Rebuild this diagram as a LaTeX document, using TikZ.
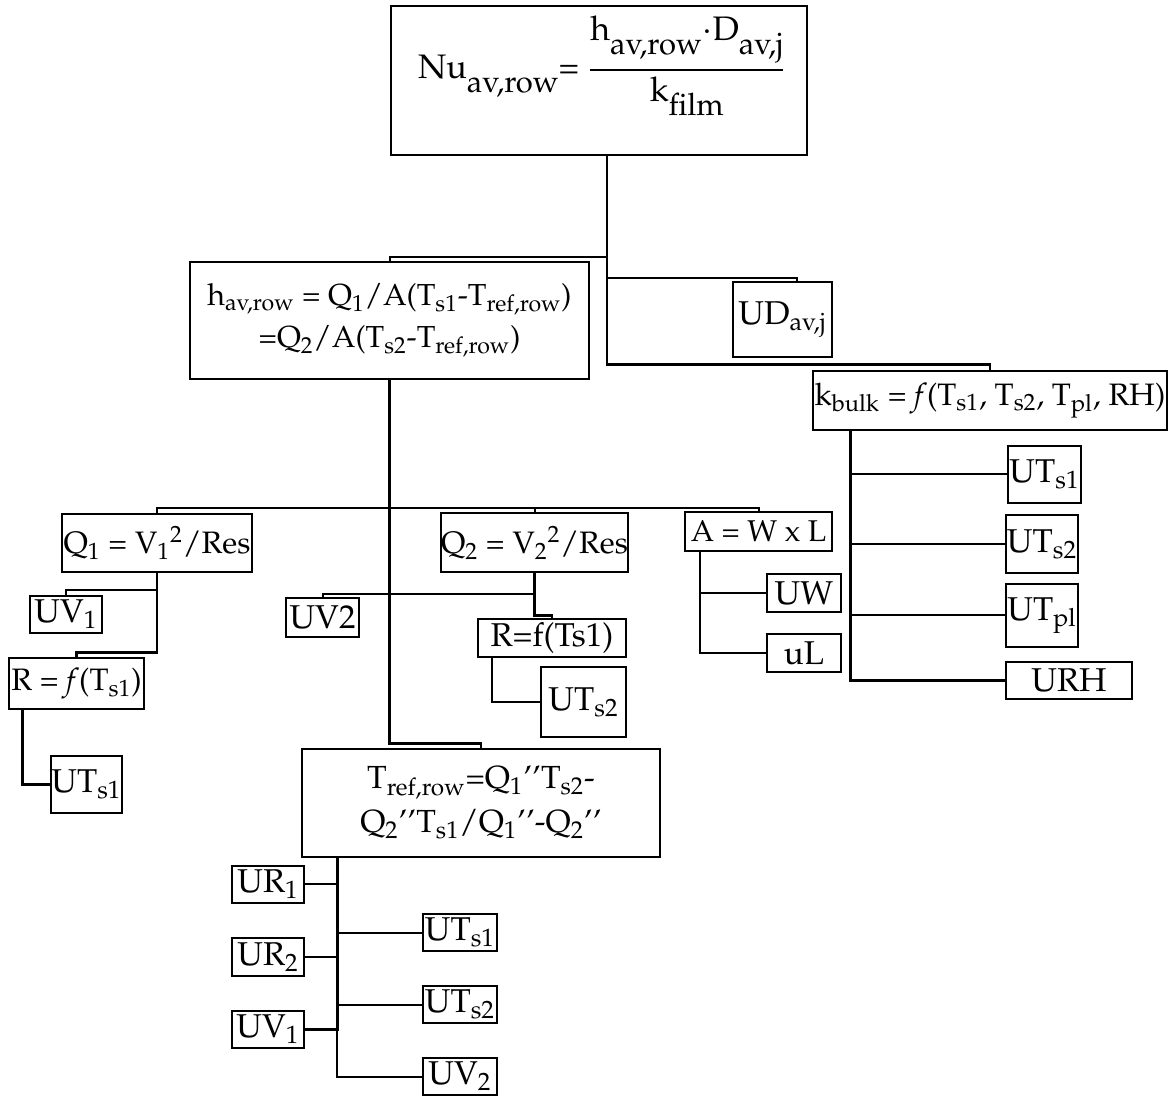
\documentclass[tikz,border=0pt]{standalone}
\usepackage[T1]{fontenc}
\usepackage{mathpazo}
\newcommand\sbs[1]{\textsubscript{#1}}
\newcommand\sps[1]{\textsuperscript{#1}}
\newcommand\lw[1]{\raisebox{-7pt}{\fontsize{15.5}{15.5}\selectfont #1}}
\begin{document}
\begin{tikzpicture}[x=0.5pt,y=-0.5pt,
  box/.style={draw,line width=0.8pt,inner sep=0pt,align=center,font=\fontsize{16.5}{19}\selectfont},
  conn/.style={line width=1pt},
  trunk/.style={line width=1.4pt}]
\useasboundingbox (0,0) rectangle (1169,1096);
% nodes
\node[box,minimum width=208pt,minimum height=74.5pt] (top) at (599,80.5) {};
\node[inner sep=0pt,font=\fontsize{17}{20}\selectfont] (toptxt) at (602,66)
  {Nu\lw{av,row}= $\displaystyle{\mbox{h\lw{av,row}$\cdot$D\lw{av,j}}\above 0.9pt\mbox{k\lw{film}}}$};
\node[box,minimum width=199.5pt,minimum height=58.5pt,font=\fontsize{15.2}{21}\selectfont] (hav) at (389.5,320.5)
  {h\sbs{av,row} = Q\sbs{1}/A(T\sbs{s1}-T\sbs{ref,row})\\=Q\sbs{2}/A(T\sbs{s2}-T\sbs{ref,row})};
\node[box,minimum width=49.5pt,minimum height=37.5pt] (UD) at (782.5,319.5) {UD\sbs{av,j}};
\node[box,minimum width=177pt,minimum height=29.5pt,font=\fontsize{15.5}{19}\selectfont] (kbulk) at (990,400.5)
  {k\sbs{bulk} = \textit{f}(T\sbs{s1}, T\sbs{s2}, T\sbs{pl}, RH)};
\node[box,minimum width=36.5pt,minimum height=28.5pt] (UTsb) at (1044.5,474.5) {UT\sbs{s1}};
\node[box,minimum width=36pt,minimum height=29pt] (UTsbb) at (1042,544) {UT\sbs{s2}};
\node[box,minimum width=36pt,minimum height=31.5pt] (UTpl) at (1042,615.5) {UT\sbs{pl}};
\node[box,minimum width=63pt,minimum height=18.5pt] (URH) at (1069,680.5) {URH};
\node[box,minimum width=95pt,minimum height=29pt,font=\fontsize{15.5}{19}\selectfont] (Q1) at (157,543) {Q\sbs{1} = V\sbs{1}\sps{2}/Res};
\node[box,minimum width=36pt,minimum height=18.5pt] (UVa) at (66,614.5) {UV\sbs{1}};
\node[box,minimum width=67.5pt,minimum height=25.5pt,font=\fontsize{15.5}{19}\selectfont] (R1) at (76.5,683.5) {R = \textit{f}(T\sbs{s1})};
\node[box,minimum width=35.5pt,minimum height=28.5pt] (UTsa) at (86.5,784.5) {UT\sbs{s1}};
\node[box,minimum width=36.5pt,minimum height=19.5pt] (UVb) at (322.5,617.5) {UV2};
\node[box,minimum width=91.5pt,minimum height=29.5pt,font=\fontsize{15.5}{19}\selectfont] (Q2) at (534.5,542.5) {Q\sbs{2} = V\sbs{2}\sps{2}/Res};
\node[box,minimum width=74pt,minimum height=19pt] (R2) at (552,638) {R=f(Ts1)};
\node[box,minimum width=42.5pt,minimum height=35pt] (UTsaa) at (583.5,702) {UT\sbs{s2}};
\node[box,minimum width=73.5pt,minimum height=19.5pt,font=\fontsize{15}{19}\selectfont] (A) at (758.5,531.5) {A = W x L};
\node[box,minimum width=37pt,minimum height=19pt] (UW) at (804,593) {UW};
\node[box,minimum width=37pt,minimum height=19pt] (uL) at (804,653) {uL};
\node[box,minimum width=179pt,minimum height=54pt,font=\fontsize{16}{22}\selectfont] (Tref) at (481,803)
  {T\sbs{ref,row}=Q\sbs{1}'{}'T\sbs{s2}-\\Q\sbs{2}'{}'T\sbs{s1}/Q\sbs{1}'{}'-Q\sbs{2}'{}'};
\node[box,minimum width=36pt,minimum height=18.5pt] (URa) at (268,884.5) {UR\sbs{1}};
\node[box,minimum width=36pt,minimum height=19pt] (URb) at (268,957) {UR\sbs{2}};
\node[box,minimum width=36pt,minimum height=18.5pt] (UVc) at (268,1029.5) {UV\sbs{1}};
\node[box,minimum width=37pt,minimum height=18.5pt] (UTsc) at (460,932.5) {UT\sbs{s1}};
\node[box,minimum width=37pt,minimum height=18.5pt] (UTscc) at (460,1004.5) {UT\sbs{s2}};
\node[box,minimum width=37pt,minimum height=18.5pt] (UVd) at (460,1076.5) {UV\sbs{2}};
% connectors: top level
\draw[trunk] ([xshift=4pt]top.south) -- ++(0,209) -| (kbulk.north);
\draw[conn] ([xshift=4pt]top.south) ++(0,101) -| (hav.north);
\draw[conn] ([xshift=4pt]top.south) ++(0,122) -| ([xshift=7pt]UD.north);
% hav level
\draw[trunk] (hav.south) -- ++(0,364) -| (Tref.north);
\draw[conn] (Q1.north) -- ++(0,-5) -| (A.north);
\draw[conn] (Q2.north) -- ++(0,-4);
% Q1 subtree
\draw[trunk] (Q1.south) -- ++(0,80) -| (R1.north);
\draw[conn] (Q1.south) ++(0,17) -| (UVa.north);
\draw[trunk] ([xshift=7pt]R1.south west) |- (UTsa.west);
% Q2 subtree
\draw[trunk] (Q2.south) -- ++(0,43) -| (R2.north);
\draw[conn] (Q2.south) ++(0,21) -| (UVb.north);
\draw[conn] ([xshift=7.5pt]R2.south west) |- (UTsaa.west);
% A subtree
\draw[conn] ([xshift=8pt]A.south west) |- (uL.west);
\draw[conn] ([xshift=8pt]A.south west) |- (UW.west);
% kbulk subtree
\draw[trunk] ([xshift=19pt]kbulk.south west) |- (URH.west);
\draw[conn] ([xshift=19pt]kbulk.south west) |- (UTsb.west);
\draw[conn] ([xshift=19pt]kbulk.south west) |- (UTsbb.west);
\draw[conn] ([xshift=19pt]kbulk.south west) |- (UTpl.west);
% Tref subtree
\draw[trunk] ([xshift=18pt]Tref.south west) |- (UVc.east);
\draw[conn] ([xshift=18pt]Tref.south west) |- (UVd.west);
\draw[conn] ([xshift=18pt]Tref.south west) |- (URa.east);
\draw[conn] ([xshift=18pt]Tref.south west) |- (URb.east);
\draw[conn] ([xshift=18pt]Tref.south west) |- (UTsc.west);
\draw[conn] ([xshift=18pt]Tref.south west) |- (UTscc.west);
\end{tikzpicture}
\end{document}
